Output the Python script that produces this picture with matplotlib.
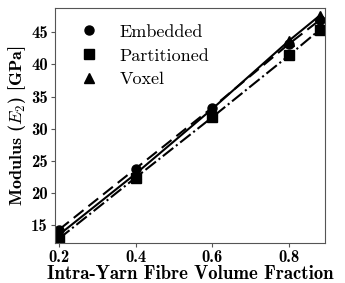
import matplotlib
matplotlib.use('Agg')
import matplotlib.pyplot as plt

#----------Datos-------------------------------#
vf = [0.2, 0.4, 0.6, 0.8, 0.88]
embedded = [14.3, 23.8, 33.3, 43.2, 46.9]
partitioned = [12.9, 22.4, 31.8, 41.4, 45.4]
voxel = [13.5, 23.0, 33.1, 43.7, 47.6]

plt.rcParams['mathtext.fontset'] = 'cm'
plt.rcParams['axes.unicode_minus'] = False

fig = plt.figure(figsize=(3.45, 2.83), dpi=100)
ax = fig.add_axes([0.159, 0.141, 0.783, 0.831])

ax.plot(vf, embedded, 'k--', lw=1.5, dashes=(6, 3))
ax.plot(vf, voxel, 'k-', lw=1.5)
ax.plot(vf, partitioned, 'k-.', lw=1.5)

ax.plot(vf, embedded, 'ko', ms=6.5, ls='none', label='Embedded')
ax.plot(vf, partitioned, 'ks', ms=6.5, ls='none', label='Partitioned')
ax.plot(vf, voxel, 'k^', ms=6.5, ls='none', label='Voxel')

ax.set_xlim(0.189, 0.894)
ax.set_ylim(12.2, 48.8)
ax.set_xticks([0.2, 0.4, 0.6, 0.8])
ax.set_yticks([15, 20, 25, 30, 35, 40, 45])

for s in ax.spines.values():
    s.set_color('#555555')
    s.set_linewidth(0.8)
ax.tick_params(direction='out', length=3, width=0.8, color='#555555', pad=2)
for lab in ax.get_xticklabels() + ax.get_yticklabels():
    lab.set_fontfamily('cmb10')
    lab.set_fontsize(12)

ax.set_xlabel('Intra-Yarn Fibre Volume Fraction', fontfamily='cmb10', fontsize=13.5, labelpad=0)
ax.set_ylabel(r'Modulus ($E_2$) [GPa]', fontfamily='cmb10', fontsize=13, labelpad=2)

leg = ax.legend(loc='upper left', frameon=False, prop={'family': 'cmr10', 'size': 13},
                handletextpad=0.7, labelspacing=0.45, borderaxespad=0.5)

plt.savefig('out.png', dpi=100)
plt.close()
